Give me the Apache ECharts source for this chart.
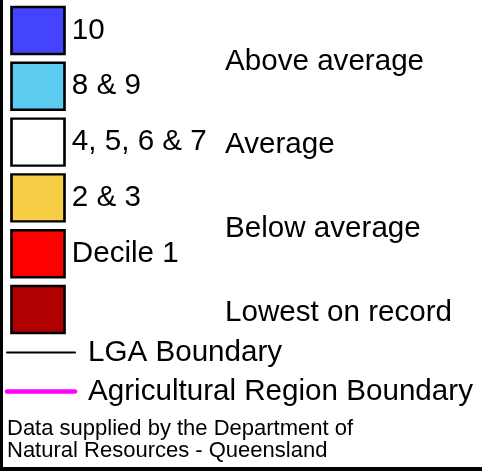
<!DOCTYPE html>
<html lang="en">
<head>
    <meta charset="UTF-8">
    <title>Rainfall deciles legend</title>
    <script src="https://cdn.jsdelivr.net/npm/echarts@6/dist/echarts.min.js"></script>
    <style>
        html, body { margin: 0; padding: 0; background: #fff; }
    </style>
</head>
<body>
<div id="legend" style="width:482px;height:471px;"></div>
<script>
    // decile swatches, top to bottom
    var deciles = ['10', '8 & 9', '4, 5, 6 & 7', '2 & 3', 'Decile 1', ''];
    var decileColours = ['#4444FF', '#5BCCF0', '#FFFFFF', '#F5CE45', '#FF0000', '#B00000'];
    // group label -> first and last swatch row it covers
    var groups = ['Above average', 'Average', 'Below average', 'Lowest on record'];
    var groupRows = [[0, 1], [2, 2], [3, 4], [5, 5]];
    // boundary lines
    var boundaries = ['LGA Boundary', 'Agricultural Region Boundary'];
    var boundaryColours = ['#000000', '#FF00FF'];
    var noteLines = ['Data supplied by the Department of', 'Natural Resources - Queensland'];

    var FONT = '"Liberation Sans", Arial, Helvetica, sans-serif';
    var BIG = 29.6;

    var swatchData = deciles.map(function (d, i) {
        return {
            value: [0, i],
            name: d,
            itemStyle: { color: decileColours[i] }
        };
    });
    var groupData = groups.map(function (g, i) {
        return { value: [1, (groupRows[i][0] + groupRows[i][1]) / 2], name: g };
    });

    var boundarySeries = boundaries.map(function (b, i) {
        return {
            name: b,
            type: 'line',
            xAxisIndex: 1,
            yAxisIndex: 1,
            showSymbol: false,
            silent: true,
            data: [[0, i], [1, i]],
            lineStyle: { color: boundaryColours[i], width: i === 0 ? 2 : 4.5, cap: 'round' },
            endLabel: {
                show: true,
                formatter: b,
                distance: 13,
                color: '#000',
                fontSize: BIG,
                fontFamily: FONT
            }
        };
    });

    var chart = echarts.init(document.getElementById('legend'));
    chart.setOption({
        animation: false,
        backgroundColor: '#fff',
        title: {
            text: noteLines.join('\n'),
            left: 7,
            top: 418,
            padding: 0,
            textStyle: { color: '#000', fontSize: 22, lineHeight: 22, fontWeight: 'normal', fontFamily: FONT }
        },
        grid: [
            { left: 38, width: 187, top: 2.6, height: 334.8 },
            { left: 7, width: 68, top: 333, height: 78 }
        ],
        xAxis: [
            { type: 'value', min: 0, max: 1, show: false, gridIndex: 0 },
            { type: 'value', min: 0, max: 1, show: false, gridIndex: 1 }
        ],
        yAxis: [
            { type: 'value', min: -0.5, max: 5.5, inverse: true, show: false, gridIndex: 0 },
            { type: 'value', min: -0.5, max: 1.5, inverse: true, show: false, gridIndex: 1 }
        ],
        graphic: [
            { type: 'line', shape: { x1: 1.5, y1: 0, x2: 1.5, y2: 471 }, style: { stroke: '#000', lineWidth: 3 } },
            { type: 'line', shape: { x1: 0, y1: 469, x2: 482, y2: 469 }, style: { stroke: '#000', lineWidth: 4 } }
        ],
        series: [
            {
                name: 'deciles',
                type: 'scatter',
                silent: true,
                symbol: 'rect',
                symbolSize: [53, 47],
                itemStyle: { borderColor: '#000', borderWidth: 2.5, opacity: 1 },
                label: {
                    show: true,
                    position: 'right',
                    distance: 6,
                    formatter: '{b}',
                    color: '#000',
                    fontSize: BIG,
                    fontFamily: FONT
                },
                data: swatchData
            },
            {
                name: 'groups',
                type: 'scatter',
                silent: true,
                symbolSize: 0,
                itemStyle: { opacity: 1 },
                label: {
                    show: true,
                    position: 'right',
                    distance: 0,
                    offset: [0, 3],
                    formatter: '{b}',
                    color: '#000',
                    opacity: 1,
                    fontSize: BIG,
                    fontFamily: FONT
                },
                data: groupData
            }
        ].concat(boundarySeries)
    });
</script>
</body>
</html>
